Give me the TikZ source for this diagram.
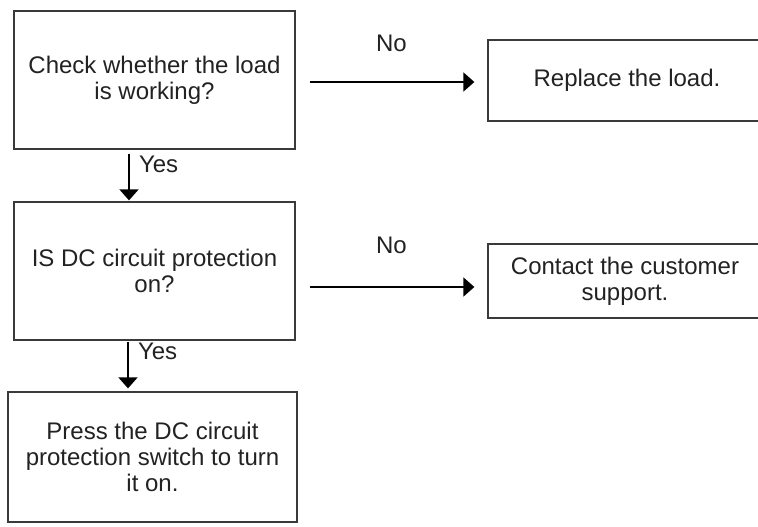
\documentclass[tikz,border=0pt]{standalone}
\usepackage{fontspec}
\setmainfont{Liberation Sans}
\usepackage{xcolor}
\usetikzlibrary{arrows.meta,positioning}
\definecolor{boxline}{HTML}{3A3A3A}
\definecolor{txt}{HTML}{222222}
\tikzset{
  box/.style={draw=boxline, line width=1.3pt, align=center, text=txt,
    inner sep=0pt, font=\fontsize{24}{26}\selectfont},
  lbl/.style={text=txt, inner sep=1pt, font=\fontsize{24}{26}\selectfont},
  flow/.style={-{Triangle[length=11pt, width=19pt]}, line width=2pt}
}

\begin{document}
\begin{tikzpicture}[x=1pt, y=-1pt]
  \useasboundingbox (0,0) rectangle (758,527);

  % left column
  \node[box, minimum width=281pt, minimum height=138pt] (load) at (154.5,80)
    {Check whether the load\\is working?};
  \node[box, minimum width=281pt, minimum height=138pt] (prot) at (154.5,271)
    {IS DC circuit protection\\on?};
  \node[box, minimum width=289pt, minimum height=130pt] (press) at (152.5,457)
    {Press the DC circuit\\protection switch to turn\\it on.};

  % right column (runs past the page edge)
  \node[box, minimum width=278pt, minimum height=81pt] (repl) at (627,80.5)
    {Replace the load.};
  \node[box, minimum width=274pt, minimum height=74pt] (supp) at (625,281)
    {Contact the customer\\support.};

  \draw[flow, shorten <=14pt, shorten >=13pt] ([yshift=-2pt]load.east) --
    node[lbl, above=28pt]{No} ([yshift=-1.5pt]repl.west);
  \draw[flow, shorten <=14pt, shorten >=13pt] ([yshift=-16pt]prot.east) --
    node[lbl, above=31pt]{No} ([yshift=-6pt]supp.west);

  \draw[flow, shorten <=4pt, shorten >=1pt] ([xshift=-25.5pt]load.south) --
    node[lbl, pos=0.29, right=8pt]{Yes} ([xshift=-25.5pt]prot.north);
  \draw[flow, shorten <=1pt, shorten >=3pt] ([xshift=-26.5pt]prot.south) --
    node[lbl, pos=0.22, right=8pt]{Yes} ([xshift=-24.5pt]press.north);
\end{tikzpicture}
\end{document}
